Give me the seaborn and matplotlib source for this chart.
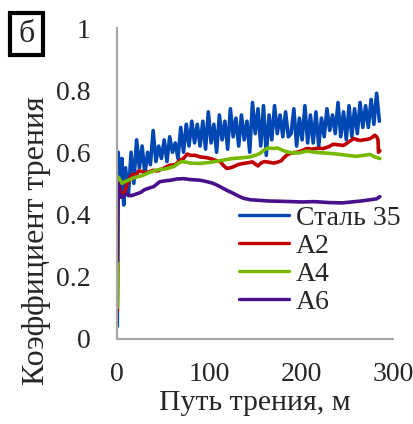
import pandas as pd
import seaborn as sns
import matplotlib
matplotlib.use('Agg')
import matplotlib.pyplot as plt
from matplotlib.patches import Rectangle

# data (path in m, friction coefficient)
steel_x = [0, 1, 3, 5, 7, 9, 12, 15, 18, 21, 24, 27, 30, 33, 36, 39, 42, 45, 48, 51,
           54, 57, 60, 63, 66, 69, 72, 75, 78, 81, 84, 87, 90, 93, 96, 99, 102, 105,
           108, 111, 114, 117, 120, 123, 126, 129, 132, 135, 138, 141, 144, 147, 150,
           153, 156, 159, 162, 165, 168, 171, 174, 177, 180, 183, 186, 189, 192, 195,
           198, 201, 204, 207, 210, 213, 216, 219, 222, 225, 228, 231, 234, 237, 240,
           243, 246, 249, 252, 255, 258, 261, 264, 267, 270, 273, 276, 279, 282, 285]
steel_y = [0.04, 0.60, 0.47, 0.58, 0.43, 0.55, 0.46, 0.60, 0.50, 0.64, 0.55, 0.62, 0.53,
           0.60, 0.56, 0.67, 0.57, 0.62, 0.58, 0.64, 0.57, 0.65, 0.60, 0.63, 0.58, 0.68,
           0.60, 0.69, 0.62, 0.70, 0.63, 0.69, 0.62, 0.70, 0.61, 0.73, 0.63, 0.69, 0.60,
           0.72, 0.64, 0.70, 0.61, 0.74, 0.65, 0.71, 0.62, 0.72, 0.64, 0.70, 0.60, 0.76,
           0.66, 0.74, 0.62, 0.75, 0.59, 0.72, 0.64, 0.75, 0.66, 0.72, 0.65, 0.73, 0.65,
           0.66, 0.74, 0.62, 0.71, 0.64, 0.75, 0.63, 0.72, 0.63, 0.73, 0.62, 0.71,
           0.65, 0.74, 0.67, 0.72, 0.66, 0.76, 0.65, 0.73, 0.64, 0.75, 0.65, 0.74, 0.66,
           0.76, 0.68, 0.75, 0.68, 0.77, 0.69, 0.79, 0.70]

a2_x = [0, 1, 3, 5, 8, 11, 14, 17, 20, 23, 28, 33, 39, 44, 50, 57, 63, 68, 72, 76, 80,
        85, 90, 96, 101, 106, 112, 116, 119, 123, 126, 131, 137, 142, 147, 150, 153,
        156, 160, 165, 170, 174, 178, 182, 186, 190, 195, 200, 206, 212, 218, 224, 230,
        235, 240, 246, 251, 257, 261, 264, 268, 272, 275, 278, 280, 282, 283.5, 284, 285.5]
a2_y = [0.09, 0.50, 0.48, 0.46, 0.47, 0.50, 0.52, 0.53, 0.52, 0.54, 0.537, 0.535, 0.542,
        0.54, 0.548, 0.558, 0.56, 0.574, 0.58, 0.594, 0.59, 0.59, 0.585, 0.583, 0.58,
        0.575, 0.569, 0.556, 0.548, 0.55, 0.553, 0.56, 0.564, 0.566, 0.569, 0.562, 0.556,
        0.565, 0.57, 0.568, 0.565, 0.568, 0.572, 0.585, 0.594, 0.598, 0.60, 0.604, 0.612,
        0.61, 0.613, 0.612, 0.618, 0.626, 0.624, 0.622, 0.632, 0.644, 0.64, 0.638, 0.64,
        0.642, 0.644, 0.65, 0.655, 0.65, 0.64, 0.60, 0.605]

a4_x = [0, 1, 3, 5, 8, 12, 16, 20, 25, 28, 35, 40, 46, 52, 57, 62, 66, 70, 75, 80, 90,
        100, 108, 116, 126, 135, 144, 150, 155, 160, 164, 170, 174, 180, 186, 191, 198,
        206, 215, 224, 233, 242, 250, 260, 268, 275, 280, 285.5]
a4_y = [0.10, 0.52, 0.51, 0.50, 0.505, 0.51, 0.515, 0.52, 0.523, 0.526, 0.535, 0.54,
        0.545, 0.546, 0.55, 0.555, 0.564, 0.57, 0.568, 0.565, 0.564, 0.567, 0.571, 0.575,
        0.58, 0.582, 0.585, 0.59, 0.596, 0.608, 0.614, 0.612, 0.614, 0.606, 0.60, 0.598,
        0.598, 0.604, 0.60, 0.598, 0.596, 0.593, 0.59, 0.587, 0.59, 0.593, 0.585, 0.58]

a6_x = [0, 1, 2, 4, 7, 10, 15, 20, 25, 30, 35, 40, 46, 52, 58, 65, 72, 80, 90, 98, 104,
        110, 115, 120, 126, 131, 137, 145, 155, 165, 180, 200, 215, 230, 245, 255, 265,
        275, 282, 285.5]
a6_y = [0.25, 0.50, 0.47, 0.455, 0.46, 0.465, 0.46, 0.465, 0.47, 0.48, 0.485, 0.49,
        0.505, 0.508, 0.51, 0.514, 0.515, 0.512, 0.51, 0.505, 0.50, 0.492, 0.484, 0.476,
        0.468, 0.46, 0.452, 0.447, 0.445, 0.443, 0.442, 0.44, 0.441, 0.438, 0.437, 0.44,
        0.443, 0.447, 0.45, 0.457]

series_names = ['Сталь 35', 'А2', 'А4', 'А6']
series_colors = ['#0047B4', '#C00000', '#76B900', '#4A108C']
x_ticks = [0, 100, 200, 300]
y_ticks = [0, 0.2, 0.4, 0.6, 0.8, 1]
y_tick_labels = ['0', '0.2', '0.4', '0.6', '0.8', '1']


def build_frame():
    parts = []
    for name, xs, ys in zip(series_names, [steel_x, a2_x, a4_x, a6_x],
                            [steel_y, a2_y, a4_y, a6_y]):
        parts.append(pd.DataFrame({'path': xs, 'mu': ys, 'series': name}))
    return pd.concat(parts, ignore_index=True)


def main():
    sns.set_style('white')
    plt.rcParams['font.family'] = ['Liberation Serif', 'DejaVu Serif']
    plt.rcParams['font.size'] = 20

    df = build_frame()
    fig = plt.figure(figsize=(4.13, 4.24), dpi=100)
    ax = fig.add_axes([0.284, 0.2014, 0.668, 0.7325])

    sns.lineplot(data=df, x='path', y='mu', hue='series', hue_order=series_names,
                 palette=series_colors, estimator=None, sort=False, linewidth=2.6, ax=ax)

    ax.set_xlim(0, 300)
    ax.set_ylim(0, 1)
    ax.set_xticks(x_ticks)
    ax.set_yticks(y_ticks)
    ax.set_yticklabels(y_tick_labels)
    ax.set_xlabel('Путь трения, м', fontsize=21.5, labelpad=2)
    ax.set_ylabel('Коэффициент трения', fontsize=23)
    # the label sits lower than the axis centre in the original
    ax.yaxis.set_label_coords(-0.24, 0.315)

    for side in ['top', 'right']:
        ax.spines[side].set_visible(False)
    for side in ['left', 'bottom']:
        ax.spines[side].set_color('#A6A6A6')
        ax.spines[side].set_linewidth(1.5)
    ax.tick_params(axis='y', direction='out', length=6, width=1.5, color='#A6A6A6',
                   labelsize=20, pad=13)
    ax.tick_params(axis='x', direction='out', length=6, width=1.5, color='#A6A6A6',
                   labelsize=20, pad=11)

    handles, labels = ax.get_legend_handles_labels()
    for h in handles:
        h.set_linewidth(2.4)
    ax.legend(handles, labels, loc='upper left', bbox_to_anchor=(0.44, 0.43),
              frameon=False, fontsize=20, handlelength=1.8, handletextpad=0.25,
              labelspacing=0.1, borderpad=0, borderaxespad=0)

    # panel label "б" in a black frame
    fig.add_artist(Rectangle((10 / 413, 1 - 55 / 424), 33 / 413, 42 / 424,
                             transform=fig.transFigure, facecolor='white',
                             edgecolor='black', linewidth=3, zorder=5))
    fig.text(27 / 413, 1 - 35 / 424, 'б', fontsize=23, ha='center', va='center',
             zorder=6)

    fig.savefig('out.png', dpi=100)


main()
